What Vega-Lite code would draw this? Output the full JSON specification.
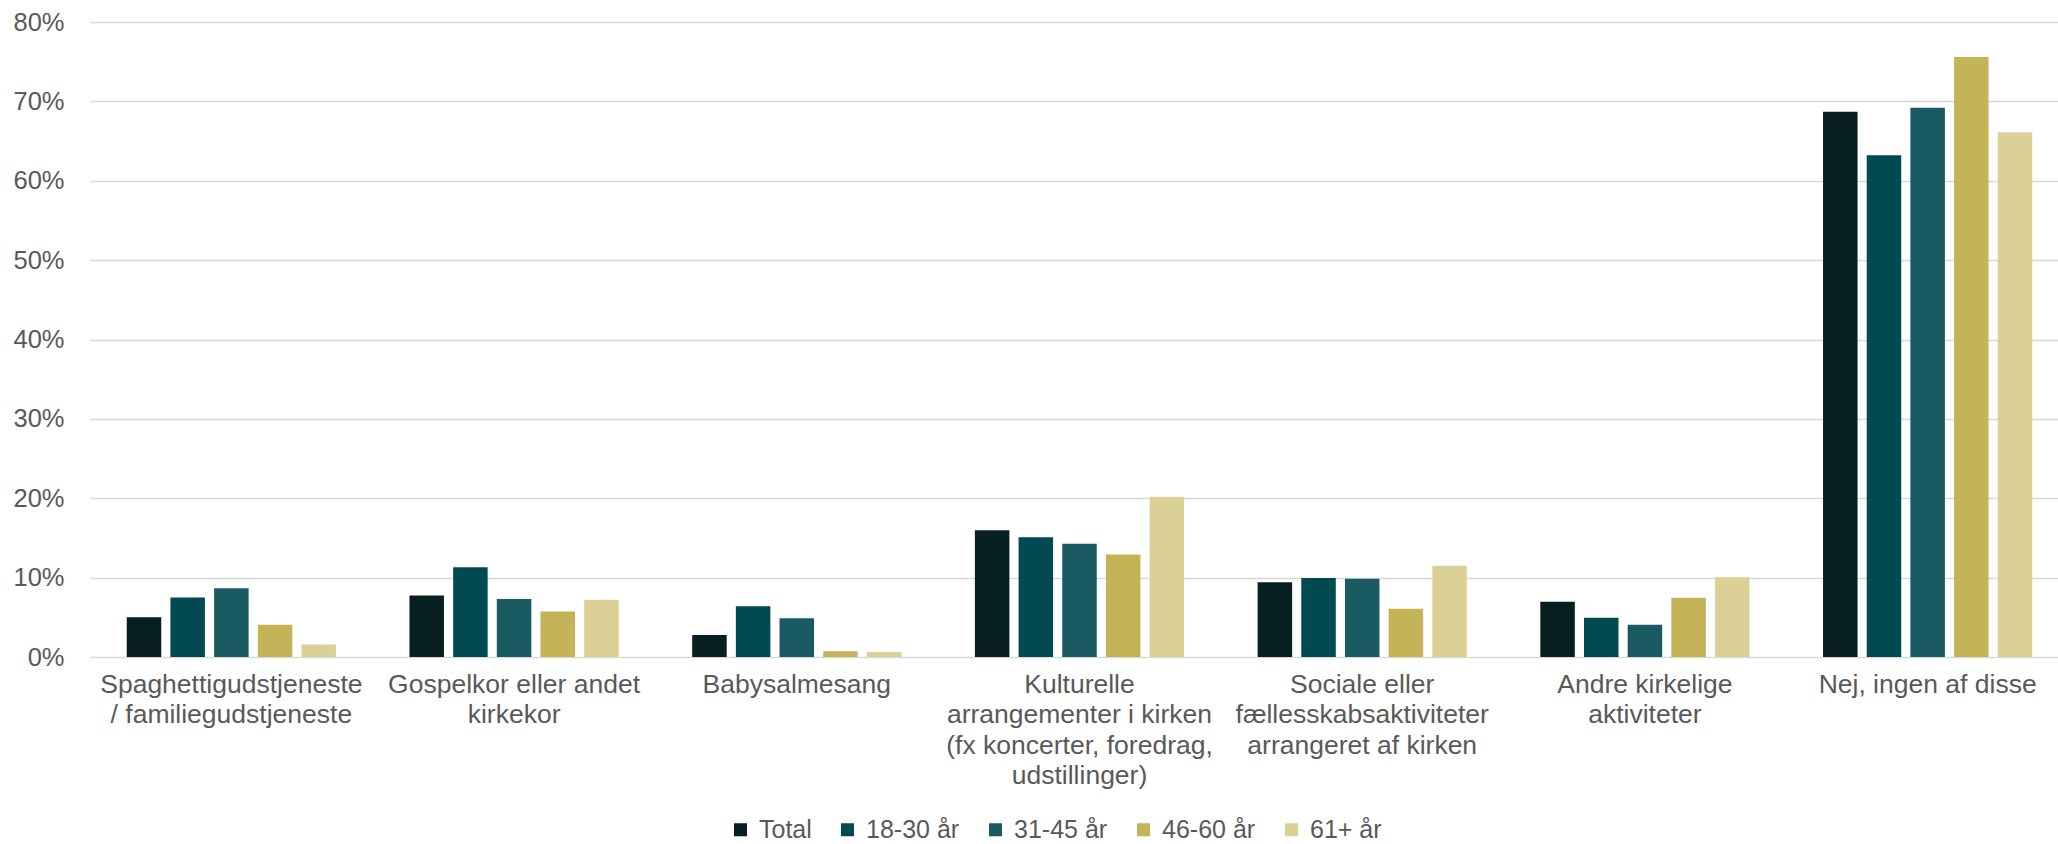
{
  "$schema": "https://vega.github.io/schema/vega-lite/v6.json",
  "autosize": {"type": "none"},
  "width": 1968,
  "height": 635,
  "padding": {"left": 90, "top": 22, "right": 0, "bottom": 187},
  "background": "white",
  "config": {
    "view": {"stroke": null},
    "font": "Liberation Sans",
    "axis": {"labelFont": "Liberation Sans", "labelColor": "#595959", "labelFontSize": 25.5}
  },
  "data": {
    "values": [
      {"category": "Spaghettigudstjeneste|/ familiegudstjeneste", "group": "Total", "value": 0.050},
      {"category": "Spaghettigudstjeneste|/ familiegudstjeneste", "group": "18-30 år", "value": 0.075},
      {"category": "Spaghettigudstjeneste|/ familiegudstjeneste", "group": "31-45 år", "value": 0.0865},
      {"category": "Spaghettigudstjeneste|/ familiegudstjeneste", "group": "46-60 år", "value": 0.0405},
      {"category": "Spaghettigudstjeneste|/ familiegudstjeneste", "group": "61+ år", "value": 0.0156},
      {"category": "Gospelkor eller andet|kirkekor", "group": "Total", "value": 0.0776},
      {"category": "Gospelkor eller andet|kirkekor", "group": "18-30 år", "value": 0.113},
      {"category": "Gospelkor eller andet|kirkekor", "group": "31-45 år", "value": 0.073},
      {"category": "Gospelkor eller andet|kirkekor", "group": "46-60 år", "value": 0.0574},
      {"category": "Gospelkor eller andet|kirkekor", "group": "61+ år", "value": 0.072},
      {"category": "Babysalmesang", "group": "Total", "value": 0.0277},
      {"category": "Babysalmesang", "group": "18-30 år", "value": 0.0638},
      {"category": "Babysalmesang", "group": "31-45 år", "value": 0.0487},
      {"category": "Babysalmesang", "group": "46-60 år", "value": 0.0071},
      {"category": "Babysalmesang", "group": "61+ år", "value": 0.0063},
      {"category": "Kulturelle|arrangementer i kirken|(fx koncerter, foredrag,|udstillinger)", "group": "Total", "value": 0.1597},
      {"category": "Kulturelle|arrangementer i kirken|(fx koncerter, foredrag,|udstillinger)", "group": "18-30 år", "value": 0.151},
      {"category": "Kulturelle|arrangementer i kirken|(fx koncerter, foredrag,|udstillinger)", "group": "31-45 år", "value": 0.1426},
      {"category": "Kulturelle|arrangementer i kirken|(fx koncerter, foredrag,|udstillinger)", "group": "46-60 år", "value": 0.129},
      {"category": "Kulturelle|arrangementer i kirken|(fx koncerter, foredrag,|udstillinger)", "group": "61+ år", "value": 0.202},
      {"category": "Sociale eller|fællesskabsaktiviteter|arrangeret af kirken", "group": "Total", "value": 0.0943},
      {"category": "Sociale eller|fællesskabsaktiviteter|arrangeret af kirken", "group": "18-30 år", "value": 0.0994},
      {"category": "Sociale eller|fællesskabsaktiviteter|arrangeret af kirken", "group": "31-45 år", "value": 0.0985},
      {"category": "Sociale eller|fællesskabsaktiviteter|arrangeret af kirken", "group": "46-60 år", "value": 0.0608},
      {"category": "Sociale eller|fællesskabsaktiviteter|arrangeret af kirken", "group": "61+ år", "value": 0.115},
      {"category": "Andre kirkelige|aktiviteter", "group": "Total", "value": 0.0696},
      {"category": "Andre kirkelige|aktiviteter", "group": "18-30 år", "value": 0.0495},
      {"category": "Andre kirkelige|aktiviteter", "group": "31-45 år", "value": 0.0407},
      {"category": "Andre kirkelige|aktiviteter", "group": "46-60 år", "value": 0.0746},
      {"category": "Andre kirkelige|aktiviteter", "group": "61+ år", "value": 0.1006},
      {"category": "Nej, ingen af disse", "group": "Total", "value": 0.687},
      {"category": "Nej, ingen af disse", "group": "18-30 år", "value": 0.632},
      {"category": "Nej, ingen af disse", "group": "31-45 år", "value": 0.692},
      {"category": "Nej, ingen af disse", "group": "46-60 år", "value": 0.756},
      {"category": "Nej, ingen af disse", "group": "61+ år", "value": 0.661}
    ]
  },
  "mark": {"type": "bar"},
  "encoding": {
    "x": {
      "field": "category",
      "type": "nominal",
      "sort": null,
      "scale": {"paddingInner": 0.26, "paddingOuter": 0.13, "range": [0, 1979]},
      "axis": {
        "title": null,
        "labelAngle": 0,
        "domain": false,
        "ticks": false,
        "labelPadding": 14,
        "labelBaseline": "top",
        "labelLineHeight": 30.5,
        "labelFontSize": 26.5,
        "labelLimit": 0,
        "labelExpr": "split(datum.label, '|')"
      }
    },
    "xOffset": {
      "field": "group",
      "type": "nominal",
      "sort": ["Total", "18-30 år", "31-45 år", "46-60 år", "61+ år"],
      "scale": {"paddingInner": 0.21, "paddingOuter": 0}
    },
    "y": {
      "field": "value",
      "type": "quantitative",
      "scale": {"domain": [0, 0.8], "nice": false},
      "axis": {
        "title": null,
        "format": ".0%",
        "values": [0, 0.1, 0.2, 0.3, 0.4, 0.5, 0.6, 0.7, 0.8],
        "domain": false,
        "ticks": false,
        "labelPadding": 26,
        "gridColor": "#d9d9d9",
        "gridWidth": 1.5
      }
    },
    "color": {
      "field": "group",
      "type": "nominal",
      "sort": ["Total", "18-30 år", "31-45 år", "46-60 år", "61+ år"],
      "scale": {
        "domain": ["Total", "18-30 år", "31-45 år", "46-60 år", "61+ år"],
        "range": ["#081f21", "#024a52", "#195a63", "#c5b358", "#dbd197"]
      },
      "legend": {
        "title": null,
        "orient": "none",
        "direction": "horizontal",
        "legendX": 638,
        "legendY": 795,
        "padding": 0,
        "symbolType": "square",
        "symbolSize": 169,
        "symbolStrokeWidth": 0,
        "symbolOpacity": 1,
        "labelFont": "Liberation Sans",
        "labelFontSize": 25,
        "labelColor": "#595959",
        "labelOffset": 6,
        "columnPadding": 23,
        "labelLimit": 0
      }
    }
  }
}
